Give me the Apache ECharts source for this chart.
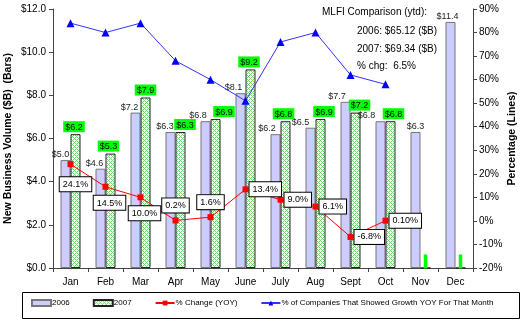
<!DOCTYPE html>
<html><head><meta charset="utf-8">
<script src="https://cdn.jsdelivr.net/npm/echarts@6/dist/echarts.min.js"></script>
<style>html,body{margin:0;padding:0;background:#fff}#c{width:530px;height:322px}</style>
</head><body><div id="c"></div>
<script>
// ---- data ----
const months = ['Jan','Feb','Mar','Apr','May','June','July','Aug','Sept','Oct','Nov','Dec'];
const vol2006 = [5.0,4.6,7.2,6.3,6.8,8.1,6.2,6.5,7.7,6.8,6.3,11.4];
const vol2007 = [6.2,5.3,7.9,6.3,6.9,9.2,6.8,6.9,7.2,6.8,0,0];
const pctChange = [24.1,14.5,10.0,0.2,1.6,13.4,9.0,6.1,-6.8,0.10,null,null];
const pctChangeLabels = ['24.1%','14.5%','10.0%','0.2%','1.6%','13.4%','9.0%','6.1%','-6.8%','0.10%','',''];
const pctGrowth = [84,80,84,68,60,51,76,80,62,58,null,null];
const seriesNames = ['2006','2007','% Change (YOY)','% of Companies That Showed Growth YOY For That Month'];
const noteLines = ['MLFI Comparison (ytd):','2006: $65.12 ($B)','2007: $69.34 ($B)','% chg:  6.5%'];
const leftAxisTitle = 'New Business Volume ($B)  (Bars)';
const rightAxisTitle = 'Percentage (Lines)';

// ---- styling (label placement, hand-placed in the original) ----
const FONT = 'Arial, "Liberation Sans", sans-serif';
const lbl2006Shift = [-5,-6,-6,-5.5,-7.5,-7,-8.5,-10,-8.5,-14,0,-3];
const lbl2007Shift = [-1.5,-2,0,4.5,8.5,-1.5,-2,3.5,4,3,0,0];
const pctPlacement = ['bottom','bottom','bottom','top','top','right','right','right','right','right'];
const pctShift = [[5,5],[4,1],[4,1],[0,0],[0,0],[0,0],[0,0],[0,0],[0,0],[0,0]];

function hatch(){
  const c = document.createElement('canvas'); c.width = 4; c.height = 4;
  const g = c.getContext('2d');
  g.fillStyle = '#ffffff'; g.fillRect(0,0,4,4);
  g.fillStyle = '#66dd66';
  for (let x=0;x<4;x++) for (let y=0;y<4;y++) {
    if ((x+y)%4===0 || ((x-y+4)%4)===0) g.fillRect(x,y,1,1);
  }
  return c;
}

const chart = echarts.init(document.getElementById('c'), null, {renderer:'canvas'});
const option = {
  animation: false,
  textStyle: {fontFamily: FONT},
  grid: {left: 53, right: 57, top: 9, bottom: 54, containLabel: false, outerBoundsMode: 'none'},
  xAxis: {
    type: 'category', data: months, boundaryGap: true,
    axisLine: {show: true, lineStyle: {color: '#444', width: 1}},
    axisTick: {show: true, length: 4, lineStyle: {color: '#444'}},
    axisLabel: {color: '#000', fontSize: 10, fontFamily: FONT, margin: 9}
  },
  yAxis: [{
    type: 'value', min: 0, max: 12, interval: 2,
    name: leftAxisTitle, nameLocation: 'middle', nameGap: 39, nameRotate: 90, nameMoveOverlap: false,
    nameTextStyle: {fontWeight: 'bold', fontSize: 10.5, color: '#000', fontFamily: FONT},
    axisLine: {show: true, lineStyle: {color: '#444'}},
    axisTick: {show: true, length: 4, lineStyle: {color: '#444'}},
    splitLine: {show: false},
    axisLabel: {color: '#000', fontSize: 10, fontFamily: FONT, margin: 7, formatter: v => '$' + v.toFixed(1)}
  },{
    type: 'value', min: -20, max: 90, interval: 10, position: 'right',
    name: rightAxisTitle, nameLocation: 'middle', nameGap: 34, nameRotate: 90, nameMoveOverlap: false,
    nameTextStyle: {fontWeight: 'bold', fontSize: 10.5, color: '#000', fontFamily: FONT},
    axisLine: {show: true, lineStyle: {color: '#444'}},
    axisTick: {show: true, length: 4, lineStyle: {color: '#444'}},
    splitLine: {show: false},
    axisLabel: {color: '#000', fontSize: 10, fontFamily: FONT, margin: 6, formatter: '{value}%'}
  }],
  legend: {
    left: 31, top: 299, width: 505, itemGap: 23, itemWidth: 19, itemHeight: 6, padding: 0,
    data: [
      {name: seriesNames[0], icon: 'rect'},
      {name: seriesNames[1], icon: 'rect'},
      {name: seriesNames[2]},
      {name: seriesNames[3]}
    ],
    textStyle: {fontSize: 8, color: '#000', fontFamily: FONT, padding: [0,0,0,-4]}
  },
  graphic: [
    {type: 'rect', shape: {x: 22.5, y: 292.5, width: 497, height: 26}, style: {fill: 'none', stroke: '#000', lineWidth: 1}, z: 0},
    {type: 'text', left: 322, top: 7, style: {text: noteLines[0], font: '10px ' + FONT, fill: '#000'}},
    {type: 'text', left: 357, top: 26, style: {text: noteLines[1], font: '10px ' + FONT, fill: '#000'}},
    {type: 'text', left: 357, top: 44, style: {text: noteLines[2], font: '10px ' + FONT, fill: '#000'}},
    {type: 'text', left: 357, top: 61, style: {text: noteLines[3], font: '10px ' + FONT, fill: '#000'}}
  ],
  series: [
    {
      name: seriesNames[0], type: 'bar', barWidth: 10, barGap: '0%',
      data: vol2006.map((v, i) => ({value: v, label: {offset: [lbl2006Shift[i], 0]}})),
      itemStyle: {color: '#ccccff', borderColor: '#777', borderWidth: 1},
      label: {show: true, position: 'top', distance: 1, color: '#222', fontSize: 9, fontFamily: FONT,
        formatter: p => '$' + p.value.toFixed(1)}
    },
    {
      name: seriesNames[1], type: 'bar', barWidth: 10, barGap: '0%',
      data: vol2007.map((v, i) => v === 0
        ? {value: 0, label: {position: 'insideBottom', distance: 0, lineHeight: 14, padding: [0, 0.5]}}
        : {value: v, label: {offset: [lbl2007Shift[i], 0]}}),
      itemStyle: {color: {image: hatch(), repeat: 'repeat'}, borderColor: '#222', borderWidth: 1},
      label: {show: true, position: 'top', distance: 2, color: '#000', fontSize: 9, fontFamily: FONT,
        backgroundColor: '#00ff00', padding: [1, 2, 0, 2], lineHeight: 10,
        formatter: p => p.value ? '$' + p.value.toFixed(1) : ' '}
    },
    {
      name: seriesNames[2], type: 'line', yAxisIndex: 1, z: 5,
      data: pctChange.map((v, i) => v === null ? null : {value: v, label: {
        position: pctPlacement[i], offset: pctShift[i], distance: pctPlacement[i] === 'right' ? 1 : 5}}),
      symbol: 'rect', symbolSize: 6,
      itemStyle: {color: '#ff0000'},
      lineStyle: {color: '#ff0000', width: 1},
      label: {show: true, color: '#000', fontSize: 9, fontFamily: FONT, lineHeight: 11,
        backgroundColor: '#fff', borderColor: '#000', borderWidth: 1, padding: [2, 3, 1, 3],
        formatter: p => pctChangeLabels[p.dataIndex]}
    },
    {
      name: seriesNames[3], type: 'line', yAxisIndex: 1, z: 4,
      data: pctGrowth,
      symbol: 'triangle', symbolSize: 8,
      itemStyle: {color: '#0000ff'},
      lineStyle: {color: '#3333ff', width: 1}
    }
  ]
};
chart.setOption(option);
</script>
</body></html>
